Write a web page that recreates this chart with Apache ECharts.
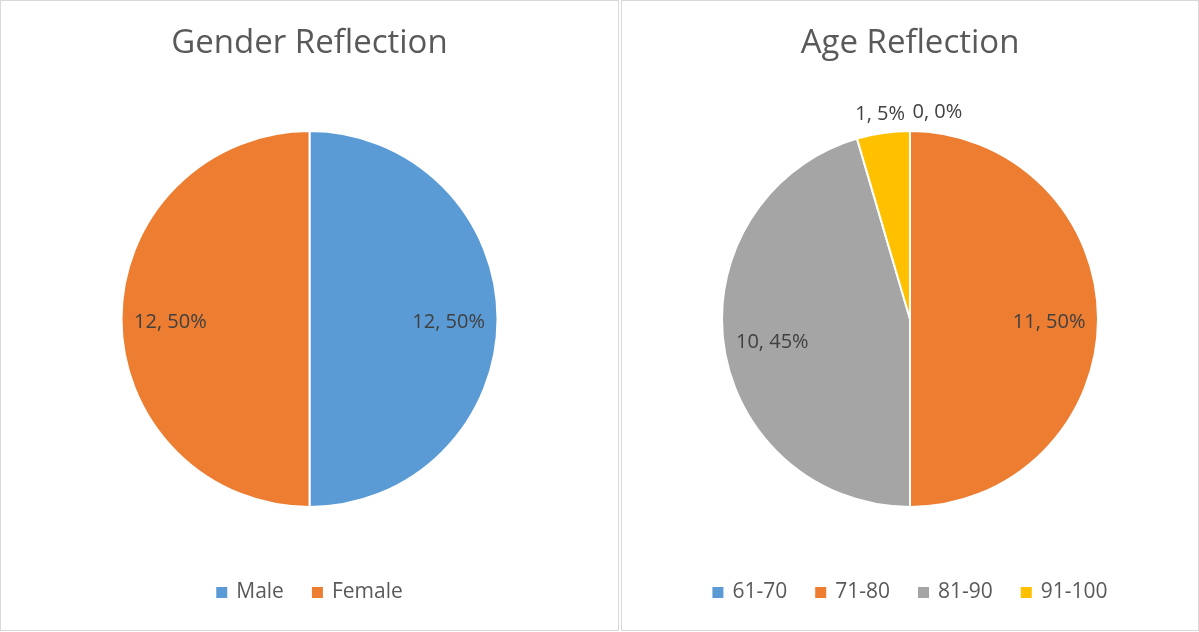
<!DOCTYPE html>
<html>
<head>
<meta charset="utf-8">
<script src="https://cdn.jsdelivr.net/npm/echarts@6/dist/echarts.min.js"></script>
<style>
  html, body { margin: 0; padding: 0; background: #fff; }
  .panel { position: absolute; top: 0; height: 631px; box-sizing: border-box; border: 1px solid #d9d9d9; }
  #gender { left: 0; width: 619px; }
  #age { left: 621px; width: 578px; }
</style>
</head>
<body>
<div id="gender" class="panel"></div>
<div id="age" class="panel"></div>
<script>
var genderNames = ["Male", "Female"];
var genderValues = [12, 12];
var genderColors = ["#5B9BD5", "#ED7D31"];

var ageNames = ["61-70", "71-80", "81-90", "91-100"];
var ageValues = [0, 11, 10, 1];
var ageColors = ["#5B9BD5", "#ED7D31", "#A5A5A5", "#FFC000"];

var font = "'Open Sans', 'Liberation Sans', sans-serif";
var pieRadius = 188;
var pieY = 318;

function makeOption(chart, title, names, values, colors) {
  var total = values.reduce(function (a, b) { return a + b; }, 0);
  return {
    color: colors,
    title: {
      text: title,
      left: "center",
      top: 21,
      textStyle: { fontFamily: font, fontSize: 33, fontWeight: "normal", color: "#595959" },
    },
    legend: {
      data: names,
      bottom: 22,
      left: "center",
      icon: "rect",
      itemWidth: 11,
      itemHeight: 11,
      itemGap: 28,
      itemStyle: { borderWidth: 0 },
      textStyle: { fontFamily: font, fontSize: 21, color: "#595959", padding: [0, 0, 0, 4] },
    },
    series: [
      {
        type: "pie",
        center: ["50%", pieY],
        radius: pieRadius,
        startAngle: 90,
        clockwise: true,
        silent: true,
        itemStyle: { borderColor: "#fff", borderWidth: 2 },
        label: {
          show: true,
          position: "inside",
          fontFamily: font,
          fontSize: 20,
          color: "#404040",
          formatter: function (p) {
            return p.value + ", " + Math.round(p.percent) + "%";
          },
        },
        labelLine: { show: false },
        // push labels out: big slices near the rim, small ones just outside it
        labelLayout: function (params) {
          var r = params.labelRect;
          var cx = chart.getWidth() / 2;
          var vx = r.x + r.width / 2 - cx;
          var vy = r.y + r.height / 2 - pieY;
          var d = Math.sqrt(vx * vx + vy * vy) || 1;
          var v = values[params.dataIndex];
          var target = v / total < 0.1 ? pieRadius + 22 : pieRadius * 0.74;
          var dx = (vx / d) * target - vx;
          var dy = (vy / d) * target - vy + 3;
          if (v === 0) dx += r.width * 0.55;
          return { dx: dx, dy: dy };
        },
        data: names.map(function (n, i) {
          return { name: n, value: values[i] };
        }),
      },
    ],
  };
}

var genderChart = echarts.init(document.getElementById("gender"));
genderChart.setOption(makeOption(genderChart, "Gender Reflection", genderNames, genderValues, genderColors));

var ageChart = echarts.init(document.getElementById("age"));
ageChart.setOption(makeOption(ageChart, "Age Reflection", ageNames, ageValues, ageColors));
</script>
</body>
</html>
